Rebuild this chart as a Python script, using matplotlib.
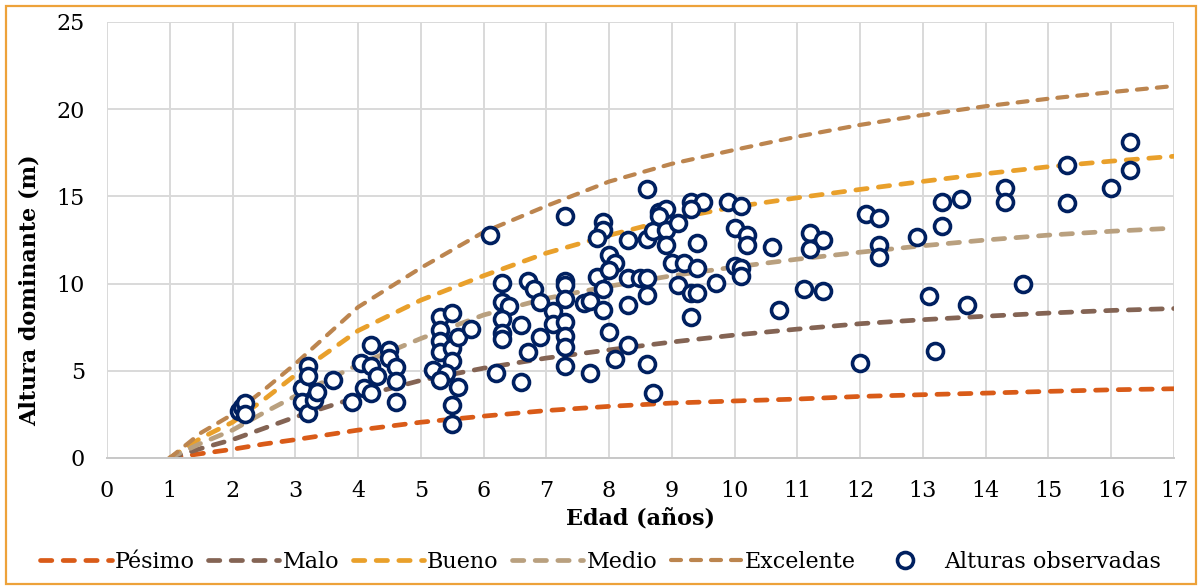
import matplotlib
matplotlib.use("Agg")
import matplotlib.pyplot as plt
from matplotlib.patches import Rectangle

# curvas de indice de sitio
edades_curva = [1, 1.5, 2, 2.5, 3, 4, 5, 6, 7, 8, 9, 10, 11, 12, 13, 14, 15, 16, 17]
pesimo = [0, 0.25, 0.5, 0.8, 1.05, 1.6, 2.05, 2.4, 2.72, 2.96, 3.15, 3.27, 3.38, 3.53, 3.63, 3.72, 3.82, 3.91, 3.97]
malo = [0, 0.55, 1.05, 1.7, 2.35, 3.5, 4.45, 5.15, 5.73, 6.2, 6.65, 7.05, 7.39, 7.7, 7.93, 8.13, 8.31, 8.46, 8.57]
bueno = [0, 1.15, 2.05, 3.35, 4.75, 7.3, 9.05, 10.45, 11.75, 12.77, 13.7, 14.4, 14.92, 15.4, 15.86, 16.3, 16.7, 17.02, 17.3]
medio = [0, 0.85, 1.6, 2.6, 3.55, 5.35, 6.85, 8.2, 9.15, 9.85, 10.45, 10.95, 11.4, 11.8, 12.17, 12.5, 12.78, 13.0, 13.18]
excelente = [0, 1.45, 2.5, 3.9, 5.4, 8.65, 10.9, 12.95, 14.45, 15.85, 16.87, 17.67, 18.43, 19.1, 19.67, 20.17, 20.6, 20.98, 21.33]

# alturas observadas
edad_obs = [2.1, 2.15, 2.2, 2.2,
            3.1, 3.2, 3.2, 3.1, 3.2, 3.3, 3.35, 3.6,
            3.9, 4.1, 4.2, 4.05, 4.2, 4.3, 4.2, 4.5, 4.5, 4.6, 4.6, 4.6,
            5.3, 5.5, 5.3, 5.3, 5.3, 5.5, 5.6, 5.8, 5.5, 5.2, 5.4, 5.3, 5.6, 5.5, 5.5,
            6.1, 6.3, 6.3, 6.4, 6.3, 6.3, 6.3, 6.6, 6.7, 6.2, 6.6, 6.7, 6.8, 6.9, 6.9,
            7.1, 7.1, 7.3, 7.3, 7.3, 7.3, 7.3, 7.3, 7.3, 7.3, 7.6, 7.7, 7.7,
            7.9, 7.9, 7.8, 8.0, 8.1, 7.8, 7.9, 7.9, 8.0, 8.1, 8.0,
            8.3, 8.3, 8.3, 8.3, 8.5, 8.6, 8.6, 8.6, 8.7, 8.6, 8.6, 8.7,
            8.8, 8.9, 8.8, 8.9, 8.9, 9.1, 9.0, 9.2, 9.1,
            9.3, 9.5, 9.3, 9.4, 9.4, 9.3, 9.4, 9.3, 9.7,
            9.9, 10.1, 10.0, 10.2, 10.2, 10.0, 10.1, 10.1, 10.6, 10.7,
            11.1, 11.2, 11.4, 11.2, 11.4, 12.0, 12.1, 12.3, 12.3, 12.3, 12.9,
            13.3, 13.6, 13.3, 13.1, 13.7, 13.2, 14.3, 14.3, 14.6,
            15.3, 15.3, 16.0, 16.3, 16.3]
altura_obs = [2.7, 2.95, 3.15, 2.55,
              4.0, 5.25, 4.7, 3.2, 2.6, 3.35, 3.8, 4.5,
              3.2, 4.0, 6.5, 5.45, 5.25, 4.7, 3.75, 6.2, 5.75, 5.2, 4.4, 3.2,
              8.1, 8.3, 7.35, 6.7, 6.1, 6.3, 6.95, 7.4, 5.55, 5.05, 4.9, 4.5, 4.05, 3.05, 1.95,
              12.8, 10.05, 8.95, 8.7, 7.95, 7.15, 6.8, 7.6, 6.05, 4.9, 4.35, 10.15, 9.7, 8.95, 6.95,
              8.4, 7.7, 13.9, 10.15, 9.9, 9.1, 7.8, 7.0, 6.35, 5.3, 8.9, 9.0, 4.9,
              13.55, 13.1, 12.6, 11.65, 11.2, 10.35, 9.7, 8.5, 7.25, 5.65, 10.8,
              12.5, 10.3, 8.75, 6.5, 10.3, 10.3, 9.35, 5.4, 3.7, 15.4, 12.55, 13.0,
              14.1, 14.25, 13.85, 13.05, 12.2, 13.45, 11.2, 11.2, 9.9,
              14.7, 14.7, 14.25, 12.35, 10.9, 9.45, 9.45, 8.1, 10.05,
              14.7, 14.45, 13.2, 12.8, 12.2, 11.0, 10.9, 10.45, 12.1, 8.5,
              9.7, 12.9, 12.5, 12.0, 9.6, 5.45, 14.0, 13.75, 12.2, 11.55, 12.7,
              14.7, 14.85, 13.3, 9.3, 8.75, 6.15, 15.5, 14.65, 10.0,
              16.8, 14.6, 15.5, 18.1, 16.5]

plt.rcParams['font.family'] = ['DejaVu Serif']

fig = plt.figure(figsize=(12.01, 5.88), dpi=100)
ax = fig.add_axes([0.0891, 0.2211, 0.8884, 0.7415])

curvas = [
    ("Pésimo", pesimo, "#D95B18", 3.4),
    ("Malo", malo, "#846454", 3.4),
    ("Bueno", bueno, "#E9A02B", 3.4),
    ("Medio", medio, "#B9A07F", 3.4),
    ("Excelente", excelente, "#BC854F", 3.0),
]
for nombre, valores, color, lw in curvas:
    ln, = ax.plot(edades_curva, valores, color=color, lw=lw, label=nombre,
                  dash_capstyle='round', zorder=2)
    ln.set_dashes((2.4, 2.4))

ax.plot(edad_obs, altura_obs, linestyle='none', marker='o', ms=11.5,
        mfc='white', mec='#002060', mew=2.6, label='Alturas observadas', zorder=3)

ax.set_xlim(0, 17)
ax.set_ylim(0, 25)
ax.set_xticks(range(0, 18))
ax.set_yticks(range(0, 26, 5))
ax.tick_params(length=0, labelsize=16, pad=16)
ax.grid(True, color='#D9D9D9', lw=1.4)
ax.set_axisbelow(True)
for s in ['top', 'right', 'left']:
    ax.spines[s].set_visible(False)
ax.spines['bottom'].set_color('#C8C8C8')
ax.spines['bottom'].set_linewidth(1.4)

ax.set_xlabel("Edad (años)", fontsize=16, fontweight='bold', labelpad=4)
ax.set_ylabel("Altura dominante (m)", fontsize=16, fontweight='bold')
ax.yaxis.set_label_coords(-0.062, 0.385)

fig.legend(loc='center', bbox_to_anchor=(0.5, 0.044), ncol=6, frameon=False,
           fontsize=16, handlelength=3.2, handletextpad=0.15, columnspacing=0.6,
           borderaxespad=0)

fig.patches.append(Rectangle((0.005, 0.007), 0.991, 0.983, transform=fig.transFigure,
                             fill=False, edgecolor='#EDA23A', lw=1.6))

fig.savefig("out.png", dpi=100)
